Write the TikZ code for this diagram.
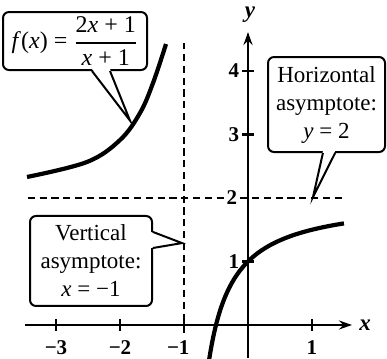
\documentclass[tikz,border=0pt]{standalone}
\usepackage{amsmath}
\usepackage{mathptmx}
\usepackage{fontspec}
\setmainfont{Liberation Serif}
\usetikzlibrary{arrows.meta}
\begin{document}
\begin{tikzpicture}[x=32pt,y=31.75pt,
  axis/.style={line width=1.2pt},
  curve/.style={line width=2.1pt},
  asym/.style={line width=1.4pt, dash pattern=on 3.6pt off 2.3pt},
  callout/.style={draw, line width=1pt, rounded corners=3pt, fill=white, inner sep=1pt, align=center, font=\fontsize{11.5}{14}\selectfont},
  ticklbl/.style={font=\fontsize{10.5}{11}\selectfont\bfseries, inner sep=1pt},
  axlbl/.style={font=\fontsize{11.5}{12}\selectfont\itshape\bfseries, inner sep=1pt},
  pointer/.style={line width=1pt, line join=miter},
  tip/.style={-{Stealth[length=6.5pt,width=4.5pt]}}
]
\useasboundingbox (-3.875,-0.52) rectangle (2.172,5.118);

% callouts
\node[callout, minimum width=72pt, minimum height=29pt, font=\fontsize{12}{14}\selectfont] (fbox) at (-2.703,4.472)
  {\mbox{\textit{f}(\textit{x}) = }$\displaystyle\genfrac{}{}{0.9pt}{0}{\mbox{2\textit{x} + 1}}{\mbox{\textit{x} + 1}}$};
\node[callout, minimum width=58.5pt, minimum height=47.5pt] (hbox) at (1.227,3.472) {Horizontal\\asymptote:\\\textit{y} = 2};
\node[callout, minimum width=61pt, minimum height=45pt] (vbox) at (-2.453,1.008) {Vertical\\asymptote:\\\textit{x} = −1};

\coordinate (ftip) at (-1.844,3.22);
\coordinate (htip) at (1.016,2.016);
\coordinate (vtip) at (-1.031,1.29);

\fill[white] ([xshift=8.5pt,yshift=1pt]fbox.south) -- (ftip) -- ([xshift=17.5pt,yshift=1pt]fbox.south) -- cycle;
\draw[pointer] ([xshift=8.5pt]fbox.south) -- (ftip) -- ([xshift=17.5pt]fbox.south);

\fill[white] ([xshift=-1.8pt,yshift=1pt]hbox.south) -- (htip) -- ([xshift=4.3pt,yshift=1pt]hbox.south) -- cycle;
\draw[pointer] ([xshift=-1.8pt]hbox.south) -- (htip) -- ([xshift=4.3pt]hbox.south);

\fill[white] ([yshift=14.5pt,xshift=-1pt]vbox.east) -- (vtip) -- ([yshift=6.5pt,xshift=-1pt]vbox.east) -- cycle;
\draw[pointer] ([yshift=14.5pt]vbox.east) -- (vtip) -- ([yshift=6.5pt]vbox.east);

% asymptotes
\draw[asym] (-1,-0.12) -- (-1,4.44);
\draw[asym] (-3.44,2) -- (1.48,2);

% axes
\coordinate (xl) at (-3.484,0);
\coordinate (xr) at (1.625,0);
\coordinate (yb) at (0,-0.52);
\coordinate (yt) at (0,4.614);
\draw[axis,tip] (xl) -- (xr);
\draw[axis,tip] (yb) -- (yt);
\node[axlbl] (xlab) at (1.83,0) {x};
\node[axlbl] (ylab) at (0.03,4.88) {y};

\foreach \t/\l in {-3/−3,-2/−2,1/1} {
  \draw[axis] (\t,-0.09) -- (\t,0.09);
  \node[ticklbl] (xt\t) at (\t,-0.35) {\l};
}
\draw[axis] (-1,-0.09) -- (-1,0.09);
\node[ticklbl] (xtm1) at (-1.09,-0.35) {−1};

\foreach \t in {1,3,4} {
  \draw[axis] (-0.09,\t) -- (0.09,\t);
  \node[ticklbl] (yt\t) at (-0.22,\t) {\t};
}
\node[ticklbl, fill=white] (yt2) at (-0.25,2) {2};

% curves
\draw[curve] plot[smooth, tension=0.6] coordinates {(-3.453,2.331) (-2.516,2.567) (-2.0,2.913) (-1.6875,3.339) (-1.484,3.811) (-1.281,4.425)};
\draw[curve, domain=-0.62:1.5, samples=80, smooth] plot (\x, {(2*\x+1)/(\x+1)});
\end{tikzpicture}
\end{document}
